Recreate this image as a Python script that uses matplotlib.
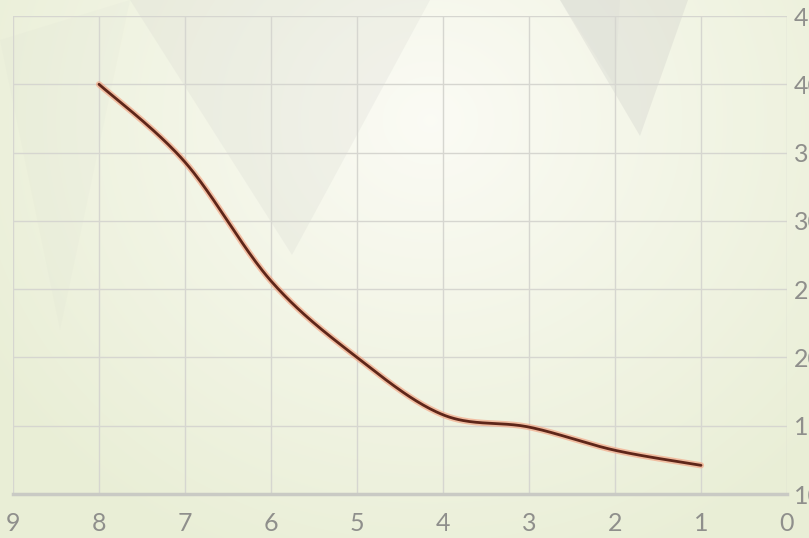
import numpy as np
import matplotlib
matplotlib.use("Agg")
import matplotlib.pyplot as plt
from matplotlib.patches import Polygon

# valores
x_vals = [8, 7, 6, 5, 4, 3, 2, 1]
y_vals = [40.0, 34.3, 25.6, 20.0, 15.8, 14.9, 13.2, 12.1]
x_ticks = [9, 8, 7, 6, 5, 4, 3, 2, 1, 0]
y_ticks = [10, 15, 20, 25, 30, 35, 40, 45]


def smooth(xs, ys, n=40):
    # curva suavizada tipo Excel (Catmull-Rom -> Bezier)
    p = np.column_stack([xs, ys]).astype(float)
    p = np.vstack([p[0], p, p[-1]])
    out = []
    t = np.linspace(0, 1, n)
    for i in range(1, len(p) - 2):
        p0, p1, p2, p3 = p[i - 1], p[i], p[i + 1], p[i + 2]
        c1 = p1 + (p2 - p0) / 6.0
        c2 = p2 - (p3 - p1) / 6.0
        seg = ((1 - t) ** 3)[:, None] * p1 + (3 * (1 - t) ** 2 * t)[:, None] * c1 \
            + (3 * (1 - t) * t ** 2)[:, None] * c2 + (t ** 3)[:, None] * p2
        out.append(seg)
    out = np.vstack(out)
    return out[:, 0], out[:, 1]


fig = plt.figure(figsize=(8.09, 5.38), dpi=100)

# fondo con degradado
bg = fig.add_axes([0, 0, 1, 1], zorder=0)
W, H = 809, 538
yy, xx = np.mgrid[0:H, 0:W]
d = np.sqrt(((xx - 430) / 520.0) ** 2 + ((yy - 120) / 480.0) ** 2)
d = np.clip(d, 0, 1)
c_in = np.array([0.985, 0.985, 0.960])
c_out = np.array([0.915, 0.935, 0.840])
img = c_in[None, None, :] * (1 - d[..., None]) + c_out[None, None, :] * d[..., None]
bg.imshow(img, extent=[0, 1, 0, 1], aspect="auto", origin="upper")
# triangulos decorativos
tri_color = (0.80, 0.80, 0.78)
for pts, a in [([(130, 0), (430, 0), (292, 255)], 0.18),
               ([(560, 0), (688, 0), (640, 136)], 0.30),
               ([(560, 0), (620, 0), (615, 86)], 0.12),
               ([(0, 40), (130, 0), (60, 330)], 0.07)]:
    bg.add_patch(Polygon([(px / W, 1 - py / H) for px, py in pts],
                         closed=True, facecolor=tri_color, alpha=a,
                         edgecolor="none"))
bg.set_xlim(0, 1)
bg.set_ylim(0, 1)
bg.axis("off")

ax = fig.add_axes([13 / W, 44 / H, 774 / W, 478 / H], zorder=1)
ax.patch.set_alpha(0)

sx, sy = smooth(x_vals, y_vals)
ax.plot(sx, sy, color="#f3a888", lw=4.5, alpha=0.7, solid_capstyle="round")
ax.plot(sx, sy, color="#5e2619", lw=2.0, solid_capstyle="round")

ax.set_xlim(9, 0)
ax.set_ylim(10, 45)
ax.set_xticks(x_ticks)
ax.set_yticks(y_ticks)
ax.grid(True, color="#d6d6d0", lw=1.0)
for s in ["top", "left", "right"]:
    ax.spines[s].set_visible(False)
ax.spines["bottom"].set_color("#c9cac4")
ax.spines["bottom"].set_linewidth(2.5)

ax.yaxis.tick_right()
fam = ["Lato", "DejaVu Sans"]
ax.tick_params(axis="both", length=0, colors="#8f8f8c", labelsize=18)
ax.tick_params(axis="x", pad=13)
ax.tick_params(axis="y", pad=5)
for lab in ax.get_xticklabels() + ax.get_yticklabels():
    lab.set_family(fam)

fig.savefig("out.png", dpi=100)
